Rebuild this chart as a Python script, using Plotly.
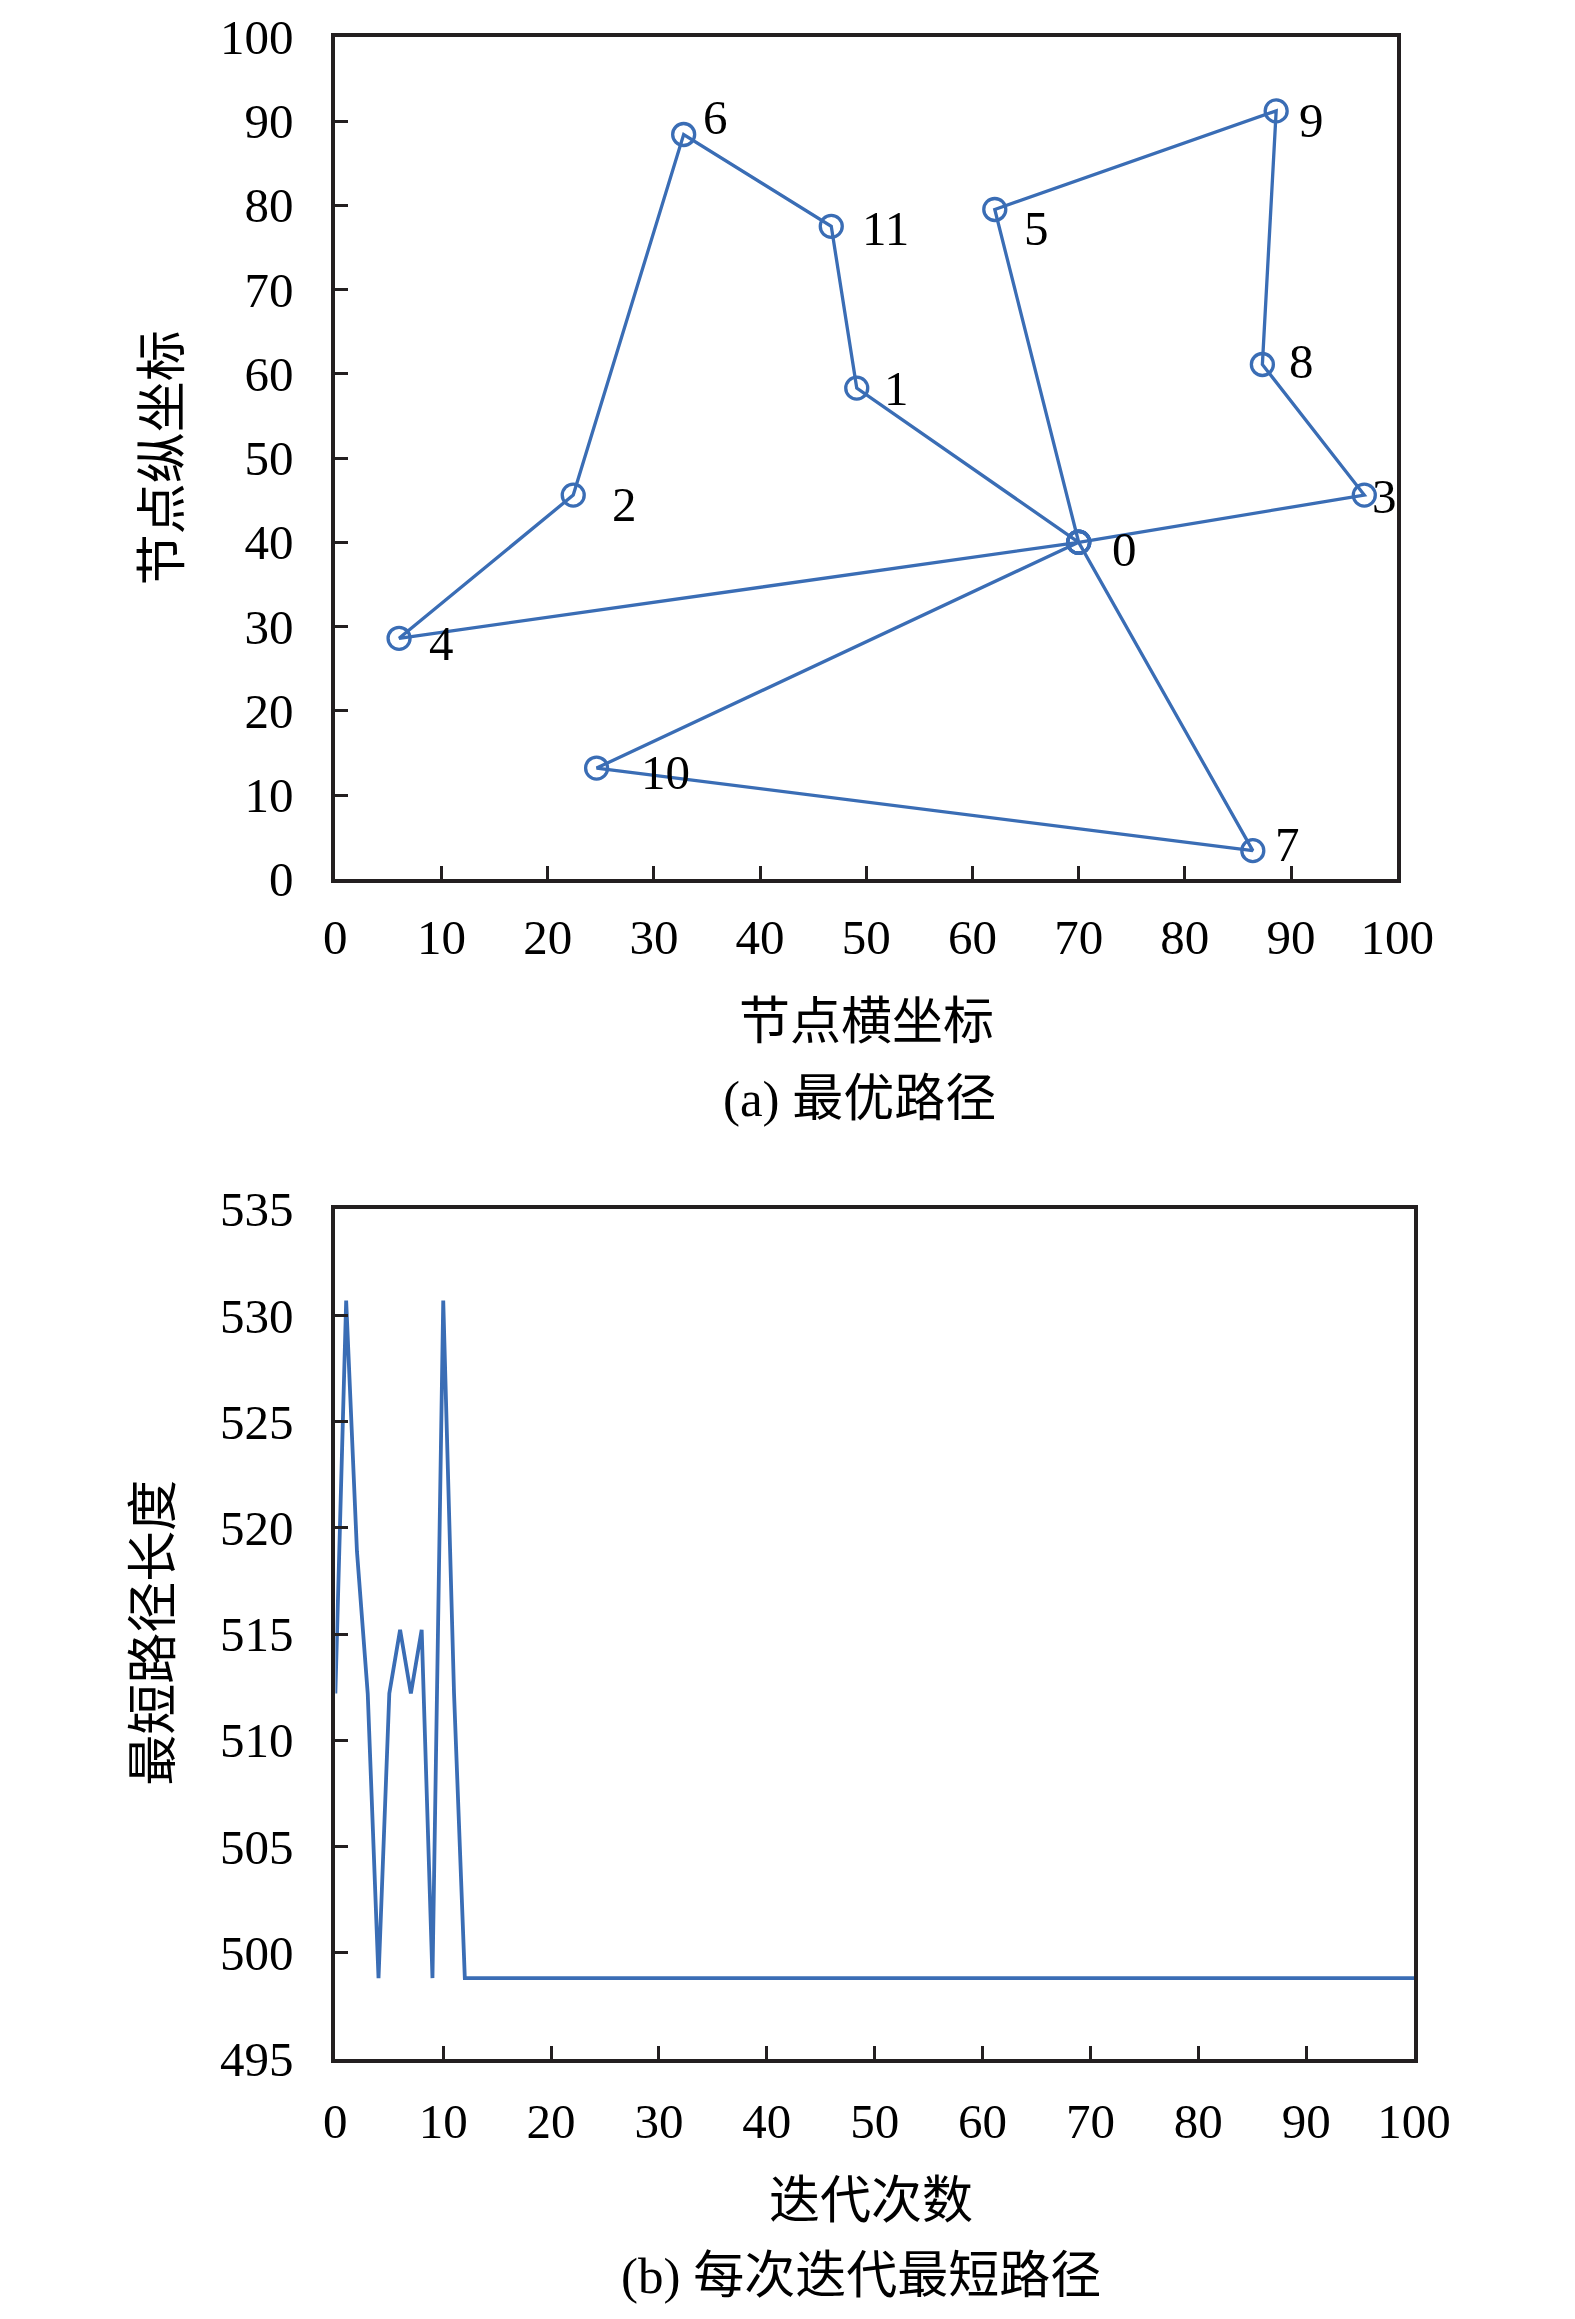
import plotly.graph_objects as go

# node coordinates
node_ids = [0, 1, 2, 3, 4, 5, 6, 7, 8, 9, 10, 11]
node_x = [70.0, 49.1, 22.4, 96.9, 6.0, 62.1, 32.8, 86.4, 87.3, 88.6, 24.6, 46.7]
node_y = [40.0, 58.3, 45.6, 45.6, 28.6, 79.5, 88.4, 3.4, 61.1, 91.2, 13.2, 77.5]

# visiting order of the best route (0 is the depot)
route = [0, 1, 11, 6, 2, 4, 0, 3, 8, 9, 5, 0, 7, 10, 0]

# shortest route length found at each iteration
iterations = list(range(101))
best_length = [512.2, 530.7, 518.9, 512.2, 498.8, 512.2, 515.2, 512.2,
               515.2, 498.8, 530.7, 512.2, 498.8] + [498.8] * 88

x_ticks = [0, 10, 20, 30, 40, 50, 60, 70, 80, 90, 100]
y_ticks_a = [0, 10, 20, 30, 40, 50, 60, 70, 80, 90, 100]
y_ticks_b = [495, 500, 505, 510, 515, 520, 525, 530, 535]

BLUE = "#3a6db5"
INK = "#231f20"
FONT = "Liberation Serif, Noto Sans CJK SC, serif"

# the page body keeps its 8px margin, so the figure is made that much smaller
PAGE_W, PAGE_H, EDGE = 1575, 2319, 8
W, H = PAGE_W - 2 * EDGE, PAGE_H - 2 * EDGE
# the captured page comes out slightly shrunk and shifted; compensate
SX, OX, SY, OY = 0.976, 6.4, 0.979, 24.4
K = 1 / SX

# label offsets in pixels (left edge from marker centre, downward shift)
label_shift = {0: (31, 7), 1: (25, 0), 2: (36, 9), 3: (6, 1), 4: (27, 5),
               5: (27, 19), 6: (17, -17), 7: (20, -6), 8: (24, -3),
               9: (20, 9), 10: (41, 4), 11: (28, 2)}


def paper_x(px):
    return ((px - OX) / SX - EDGE) / W


def paper_y(py):
    return 1 - ((py - OY) / SY - EDGE) / H


fig = go.Figure()

fig.add_trace(go.Scatter(
    x=[node_x[i] for i in route], y=[node_y[i] for i in route],
    mode="lines+markers", xaxis="x", yaxis="y",
    line=dict(color=BLUE, width=3.3),
    marker=dict(symbol="circle-open", size=22, color=BLUE,
                line=dict(width=3.3, color=BLUE)),
    showlegend=False, hoverinfo="skip",
))

fig.add_trace(go.Scatter(
    x=iterations, y=best_length, mode="lines", xaxis="x2", yaxis="y2",
    line=dict(color=BLUE, width=3.8),
    showlegend=False, hoverinfo="skip",
))

annotations = []
for i in node_ids:
    dx, dy = label_shift[i]
    annotations.append(dict(
        x=node_x[i], y=node_y[i], xref="x", yref="y", text=str(i),
        showarrow=False, xanchor="left", yanchor="middle",
        xshift=dx * K, yshift=-dy * K,
        font=dict(family=FONT, size=round(48 * K), color="black"),
    ))

titles = [
    ("节点横坐标", paper_x(867), paper_y(1022), 0),
    ("(a) 最优路径", paper_x(860), paper_y(1099), 0),
    ("节点纵坐标", paper_x(158), paper_y(456), -90),
    ("迭代次数", paper_x(872), paper_y(2205), 0),
    ("(b) 每次迭代最短路径", paper_x(862), paper_y(2280), 0),
    ("最短路径长度", paper_x(149), paper_y(1635), -90),
]
for text, ax, ay, ang in titles:
    annotations.append(dict(
        x=ax, y=ay, xref="paper", yref="paper", text=text, showarrow=False,
        xanchor="center", yanchor="middle", textangle=ang,
        font=dict(family=FONT, size=round(50 * K), color="black"),
    ))

axis_style = dict(
    showline=True, mirror=True, linecolor=INK, linewidth=4,
    ticks="inside", ticklen=13, tickwidth=3, tickcolor=INK,
    showgrid=False, zeroline=False,
    tickfont=dict(family=FONT, size=round(48 * K), color="black"),
)

fig.update_layout(
    width=W, height=H,
    margin=dict(l=0, r=0, t=0, b=0),
    paper_bgcolor="white", plot_bgcolor="white",
    xaxis=dict(domain=[paper_x(332), paper_x(1402)], range=[0, 100],
               tickvals=x_ticks, ticklabelstandoff=12, anchor="y", **axis_style),
    yaxis=dict(domain=[paper_y(879), paper_y(34)], range=[0, 100],
               tickvals=y_ticks_a, ticklabelstandoff=28, anchor="x", **axis_style),
    xaxis2=dict(domain=[paper_x(332), paper_x(1419)], range=[0, 100],
                tickvals=x_ticks, ticklabelstandoff=16, anchor="y2", **axis_style),
    yaxis2=dict(domain=[paper_y(2062), paper_y(1210)], range=[495, 535],
                tickvals=y_ticks_b, ticklabelstandoff=28, anchor="x2", **axis_style),
    annotations=annotations,
)

fig.write_html("out.html")
